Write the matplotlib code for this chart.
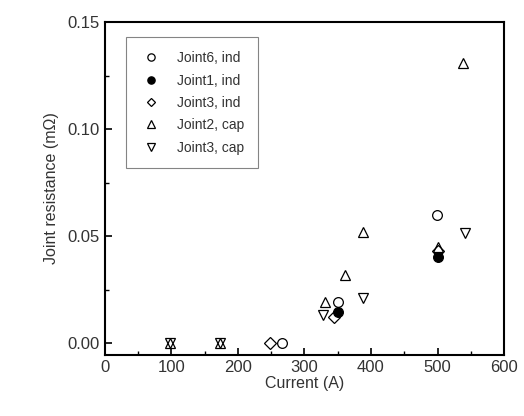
import matplotlib.pyplot as plt
from matplotlib.ticker import MultipleLocator

plt.rcParams['font.family'] = ['Liberation Sans', 'DejaVu Sans']

# Joint resistance (mOhm) vs current (A)
j6_ind_x = [266, 350, 499]
j6_ind_y = [0.0, 0.019, 0.060]
j1_ind_x = [350, 500]
j1_ind_y = [0.0145, 0.040]
j3_ind_x = [248, 345, 500]
j3_ind_y = [0.0, 0.012, 0.043]
j2_cap_x = [98, 173, 331, 361, 388, 500, 538]
j2_cap_y = [0.0, 0.0, 0.019, 0.032, 0.052, 0.045, 0.131]
j3_cap_x = [98, 173, 328, 388, 541]
j3_cap_y = [0.0, 0.0, 0.013, 0.021, 0.0515]

fig = plt.figure(figsize=(5.24, 4.16), dpi=100)
ax = fig.add_axes([0.200, 0.147, 0.762, 0.800])

ms = 7
ax.plot(j6_ind_x, j6_ind_y, 'o', mfc='none', mec='k', ms=ms, mew=0.9, label='Joint6, ind')
ax.plot(j1_ind_x, j1_ind_y, 'o', mfc='k', mec='k', ms=ms, mew=0.9, label='Joint1, ind')
ax.plot(j3_ind_x, j3_ind_y, 'D', mfc='none', mec='k', ms=ms - 1.3, mew=0.9, label='Joint3, ind')
ax.plot(j2_cap_x, j2_cap_y, '^', mfc='none', mec='k', ms=ms + 0.5, mew=0.9, label='Joint2, cap')
ax.plot(j3_cap_x, j3_cap_y, 'v', mfc='none', mec='k', ms=ms + 0.5, mew=0.9, label='Joint3, cap')

ax.set_xlim(0, 600)
ax.set_ylim(-0.0055, 0.15)
ax.xaxis.set_major_locator(MultipleLocator(100))
ax.xaxis.set_minor_locator(MultipleLocator(50))
ax.yaxis.set_major_locator(MultipleLocator(0.05))
ax.yaxis.set_minor_locator(MultipleLocator(0.025))
ax.yaxis.set_major_formatter(plt.FormatStrFormatter('%.2f'))
ax.tick_params(which='both', direction='in', labelsize=12, labelcolor='#333333')
ax.tick_params(which='major', length=5, width=1.2)
ax.tick_params(which='minor', length=3, width=1)
for s in ax.spines.values():
    s.set_linewidth(1.5)

ax.set_xlabel('Current (A)', fontsize=11.5, labelpad=1, color='#333333')
ax.set_ylabel('Joint resistance (m\u03a9)', fontsize=11.5, labelpad=6, color='#333333')

leg = ax.legend(loc='upper left', bbox_to_anchor=(0.035, 0.975), fontsize=10,
                frameon=True, fancybox=False, edgecolor='#666666', markerscale=0.75,
                handletextpad=1.1, borderpad=1.0, labelspacing=0.6, handlelength=1.6)
leg.get_frame().set_linewidth(0.8)
for t in leg.get_texts():
    t.set_color('#333333')

fig.savefig('out.png', dpi=100)
